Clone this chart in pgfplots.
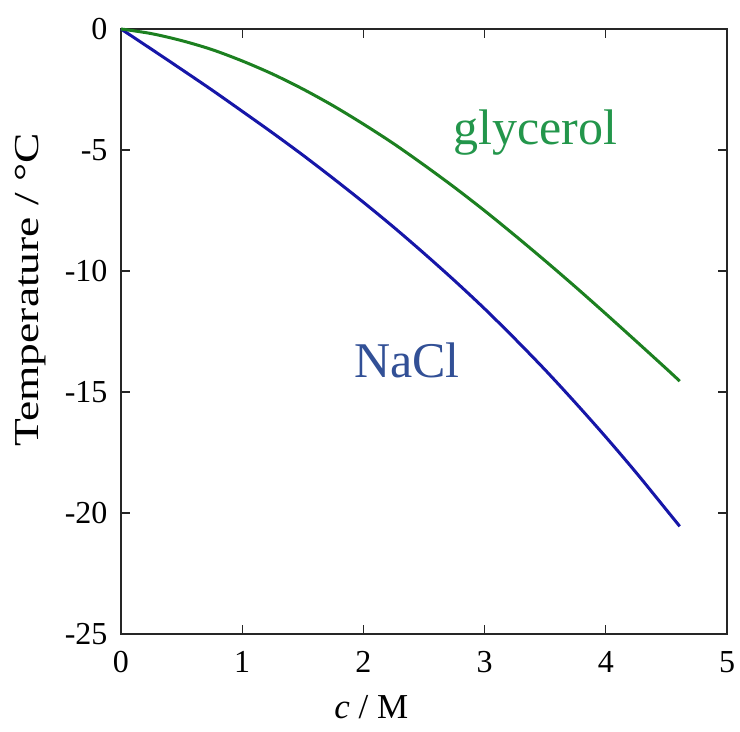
\documentclass[border=0pt]{standalone}
\usepackage{fontspec}
\setmainfont{Liberation Serif}
\usepackage{pgfplots}
\pgfplotsset{compat=1.18}
\definecolor{nacl}{RGB}{22,22,168}
\definecolor{gly}{RGB}{28,128,32}
\definecolor{nacltext}{RGB}{50,80,150}
\definecolor{glytext}{RGB}{35,150,75}
\begin{document}
\begin{tikzpicture}
\begin{axis}[name=ax, scale only axis, width=606pt, height=605pt,
  xmin=0, xmax=5, ymin=-25, ymax=0,
  xtick={0,1,2,3,4,5}, ytick={-25,-20,-15,-10,-5,0},
  tick align=inside, major tick length=9pt,
  axis line style={line width=1.6pt, black!85},
  every tick/.style={line width=1.2pt, black!85},
  /pgf/number format/assume math mode=true,
  ticklabel style={font=\fontsize{32}{38}\selectfont},
  xticklabel style={yshift=-14pt},
  yticklabel style={xshift=-10pt},
  xlabel={\textit{c} / M},
  ylabel={\scalebox{1.3}[1]{Temperature / \textdegree C}},
  label style={font=\fontsize{35}{42}\selectfont},
  xlabel style={at={(rel axis cs:0.413,-0.121)}, anchor=center},
  ylabel style={at={(rel axis cs:-0.150,0.569)}, anchor=center},
  clip=false,
]
\addplot[nacl, line width=3pt, smooth, tension=0.5] coordinates {
 (0,0) (0.25,-0.83) (0.5,-1.67) (0.75,-2.52) (1,-3.40) (1.25,-4.29)
 (1.5,-5.21) (1.75,-6.17) (2,-7.16) (2.25,-8.19) (2.5,-9.27) (2.75,-10.39)
 (3,-11.56) (3.25,-12.80) (3.5,-14.09) (3.75,-15.45) (4,-16.86)
 (4.25,-18.33) (4.5,-19.87) (4.61,-20.55)};
\addplot[gly, line width=3pt, smooth, tension=0.5] coordinates {
 (0,0) (0.25,-0.19) (0.5,-0.48) (0.75,-0.85) (1,-1.32) (1.25,-1.86)
 (1.5,-2.48) (1.75,-3.17) (2,-3.93) (2.25,-4.74) (2.5,-5.62) (2.75,-6.54)
 (3,-7.51) (3.25,-8.53) (3.5,-9.58) (3.75,-10.66) (4,-11.77)
 (4.25,-12.90) (4.5,-14.04) (4.61,-14.55)};
\node[font=\fontsize{50}{60}\selectfont, text=glytext] at (axis cs:3.42,-4.26) {glycerol};
\node[font=\fontsize{50}{60}\selectfont, text=nacltext] at (axis cs:2.36,-13.68) {NaCl};
\end{axis}
\path[use as bounding box] ([shift={(-121pt,-97pt)}]ax.south west) rectangle ([shift={(13pt,29pt)}]ax.north east);
\end{tikzpicture}
\end{document}
